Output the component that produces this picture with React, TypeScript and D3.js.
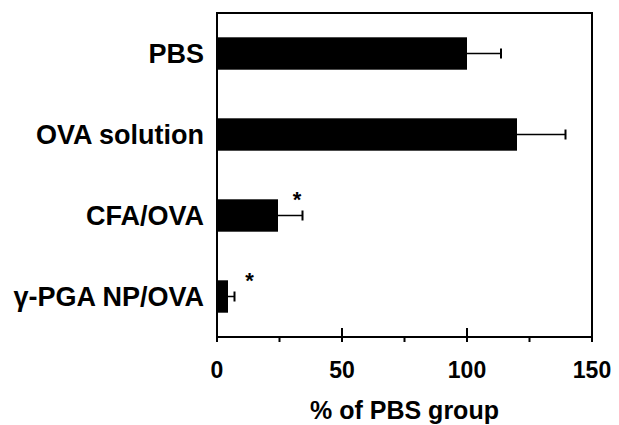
import React, { useEffect, useRef } from "react";
import * as d3 from "d3";

const groups = ["PBS", "OVA solution", "CFA/OVA", "\u03b3-PGA NP/OVA"];
const means = [100, 120, 24.4, 4.4];
const errors = [13.6, 19.4, 9.8, 2.6];
// x position (in % units) of the significance stars, null = no star
const starX = [null, null, 32, 13];
const xTicks = [0, 50, 100, 150];
const xMinorTicks = [25, 75, 125];

export default function App() {
  const ref = useRef<SVGSVGElement>(null);

  useEffect(() => {
    const svg = d3.select(ref.current);
    svg.selectAll("*").remove();

    const width = 619;
    const height = 425;
    const margin = { top: 13, right: 27, bottom: 88, left: 217 };
    const x0 = margin.left;
    const x1 = width - margin.right;
    const y0 = margin.top;
    const y1 = height - margin.bottom;

    const font = "'Liberation Sans', Arial, sans-serif";

    const x = d3.scaleLinear().domain([0, 150]).range([x0, x1]);
    const y = d3.scaleBand<string>()
      .domain(groups)
      .range([y0, y1])
      .paddingInner(0.6)
      .paddingOuter(0.3);

    // frame
    svg.append("rect")
      .attr("x", x0)
      .attr("y", y0)
      .attr("width", x1 - x0)
      .attr("height", y1 - y0)
      .attr("fill", "none")
      .attr("stroke", "#000")
      .attr("stroke-width", 2);

    // bars
    svg.selectAll("rect.bar")
      .data(groups)
      .enter()
      .append("rect")
      .attr("class", "bar")
      .attr("x", x(0))
      .attr("y", d => y(d)!)
      .attr("width", (d, i) => x(means[i]) - x(0))
      .attr("height", y.bandwidth())
      .attr("fill", "#000");

    // error bars + stars
    groups.forEach((g, i) => {
      const cy = y(g)! + y.bandwidth() / 2;
      const xe = x(means[i] + errors[i]);
      svg.append("line")
        .attr("x1", x(means[i]))
        .attr("x2", xe)
        .attr("y1", cy)
        .attr("y2", cy)
        .attr("stroke", "#000")
        .attr("stroke-width", 1.5);
      svg.append("line")
        .attr("x1", xe)
        .attr("x2", xe)
        .attr("y1", cy - 5)
        .attr("y2", cy + 5)
        .attr("stroke", "#000")
        .attr("stroke-width", 2);

      if (starX[i] != null) {
        svg.append("text")
          .attr("x", x(starX[i]!))
          .attr("y", y(g)! + 8)
          .attr("text-anchor", "middle")
          .style("font-family", font)
          .style("font-weight", "bold")
          .style("font-size", "22px")
          .text("*");
      }
    });

    // ticks
    svg.selectAll("line.major")
      .data(xTicks)
      .enter()
      .append("line")
      .attr("x1", d => x(d))
      .attr("x2", d => x(d))
      .attr("y1", y1 - 9)
      .attr("y2", y1 + 5)
      .attr("stroke", "#000")
      .attr("stroke-width", 2);

    svg.selectAll("line.minor")
      .data(xMinorTicks)
      .enter()
      .append("line")
      .attr("x1", d => x(d))
      .attr("x2", d => x(d))
      .attr("y1", y1)
      .attr("y2", y1 + 5)
      .attr("stroke", "#000")
      .attr("stroke-width", 2);

    svg.selectAll("text.tick")
      .data(xTicks)
      .enter()
      .append("text")
      .attr("x", d => x(d))
      .attr("y", y1 + 41)
      .attr("text-anchor", "middle")
      .style("font-family", font)
      .style("font-weight", "bold")
      .style("font-size", "23px")
      .text(d => d);

    // category labels
    svg.selectAll("text.cat")
      .data(groups)
      .enter()
      .append("text")
      .attr("x", x0 - 13)
      .attr("y", d => y(d)! + y.bandwidth() / 2)
      .attr("dy", "0.36em")
      .attr("text-anchor", "end")
      .style("font-family", font)
      .style("font-weight", "bold")
      .style("font-size", "27px")
      .text(d => d);

    // axis title
    svg.append("text")
      .attr("x", (x0 + x1) / 2)
      .attr("y", height - 6)
      .attr("text-anchor", "middle")
      .style("font-family", font)
      .style("font-weight", "bold")
      .style("font-size", "25px")
      .text("% of PBS group");
  }, []);

  return (
    <svg
      ref={ref}
      width={619}
      height={425}
      style={{ position: "absolute", left: 0, top: 0, background: "#fff" }}
    />
  );
}
